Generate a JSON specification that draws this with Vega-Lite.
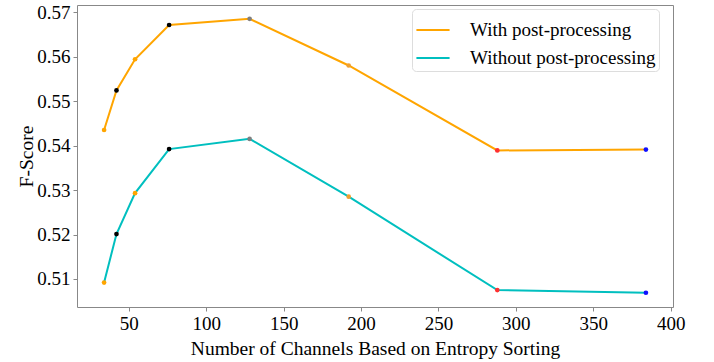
{
  "$schema": "https://vega.github.io/schema/vega-lite/v6.json",
  "autosize": {"type": "none"},
  "width": 596,
  "height": 302,
  "padding": {"left": 77, "top": 5, "right": 41, "bottom": 55},
  "background": "white",
  "config": {
    "view": {"stroke": "#888888", "strokeWidth": 1},
    "font": "Liberation Serif",
    "axis": {
      "labelFont": "Liberation Serif",
      "titleFont": "Liberation Serif",
      "labelFontSize": 19,
      "titleFontSize": 19.5,
      "titleFontWeight": "normal",
      "labelColor": "black",
      "titleColor": "black",
      "domain": false,
      "grid": false,
      "tickColor": "#888888",
      "tickSize": 4
    },
    "legend": {"labelFont": "Liberation Serif"}
  },
  "data": {
    "values": [
      {"channels": 34, "score": 0.5435, "series": "With post-processing"},
      {"channels": 42, "score": 0.5524, "series": "With post-processing"},
      {"channels": 54, "score": 0.5594, "series": "With post-processing"},
      {"channels": 76, "score": 0.5671, "series": "With post-processing"},
      {"channels": 128, "score": 0.5685, "series": "With post-processing"},
      {"channels": 192, "score": 0.5580, "series": "With post-processing"},
      {"channels": 288, "score": 0.5389, "series": "With post-processing"},
      {"channels": 384, "score": 0.5391, "series": "With post-processing"},
      {"channels": 34, "score": 0.5092, "series": "Without post-processing"},
      {"channels": 42, "score": 0.5201, "series": "Without post-processing"},
      {"channels": 54, "score": 0.5293, "series": "Without post-processing"},
      {"channels": 76, "score": 0.5392, "series": "Without post-processing"},
      {"channels": 128, "score": 0.5415, "series": "Without post-processing"},
      {"channels": 192, "score": 0.5285, "series": "Without post-processing"},
      {"channels": 288, "score": 0.5075, "series": "Without post-processing"},
      {"channels": 384, "score": 0.5069, "series": "Without post-processing"}
    ]
  },
  "encoding": {
    "x": {
      "field": "channels",
      "type": "quantitative",
      "scale": {"domain": [16.5, 401.5], "nice": false, "zero": false},
      "axis": {"values": [50, 100, 150, 200, 250, 300, 350, 400], "title": "Number of Channels Based on Entropy Sorting", "titlePadding": 6, "labelPadding": 3}
    },
    "y": {
      "field": "score",
      "type": "quantitative",
      "scale": {"domain": [0.5037, 0.5716], "nice": false, "zero": false},
      "axis": {"values": [0.51, 0.52, 0.53, 0.54, 0.55, 0.56, 0.57], "format": ".2f", "title": "F-Score", "titlePadding": 0, "labelPadding": 3}
    }
  },
  "layer": [
    {
      "mark": {"type": "line", "strokeWidth": 2},
      "encoding": {
        "color": {
          "field": "series",
          "type": "nominal",
          "scale": {"domain": ["With post-processing", "Without post-processing"], "range": ["#FFA500", "#00BFBF"]},
          "legend": {
            "title": null,
            "orient": "none",
            "legendX": 335,
            "legendY": 4,
            "symbolType": "stroke",
            "symbolStrokeWidth": 2,
            "symbolSize": 1100,
            "labelFont": "Liberation Serif",
            "labelFontSize": 19,
            "labelColor": "black",
            "labelLimit": 400,
            "rowPadding": -10,
            "labelOffset": 19,
            "fillColor": "white",
            "strokeColor": "#dddddd",
            "cornerRadius": 4,
            "padding": 3
          }
        }
      }
    },
    {
      "mark": {"type": "point", "filled": true, "size": 22, "opacity": 1},
      "encoding": {
        "color": {
          "field": "channels",
          "type": "nominal",
          "scale": {"domain": [34, 42, 54, 76, 128, 192, 288, 384], "range": ["#FFA500", "#000000", "#FFA500", "#000000", "#808080", "#F0A030", "#FF3030", "#1010FF"]},
          "legend": null
        }
      }
    }
  ],
  "resolve": {"scale": {"color": "independent"}}
}
